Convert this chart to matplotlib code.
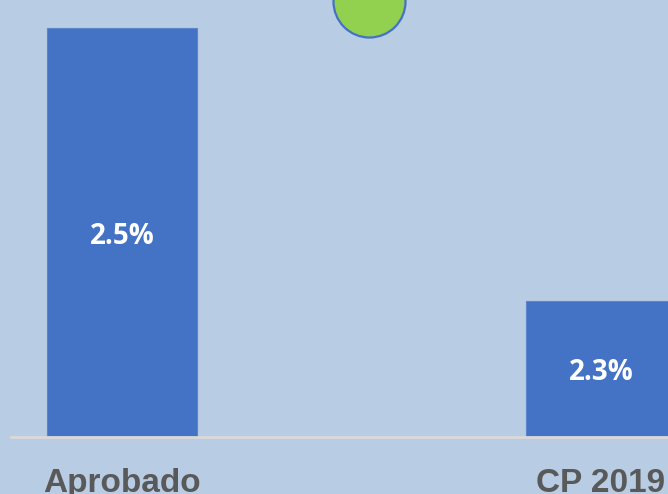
import matplotlib.pyplot as plt
from matplotlib.transforms import blended_transform_factory, offset_copy

categories = ["Aprobado", "CP 2019"]
values = [2.5, 2.3]
labels = ["2.5%", "2.3%"]
# marcador verde entre las barras
marker_x = [0.516]
marker_y = [2.52]

bg = "#b8cce4"
fig = plt.figure(figsize=(6.68, 4.94), dpi=100, facecolor=bg)
ax = fig.add_axes([11 / 668, 1 - 437 / 494, 1 - 11 / 668, 437 / 494])
ax.set_facecolor(bg)

x = range(len(categories))
ax.bar(x, values, width=0.313, color="#4472c4", edgecolor="#5b84cc", linewidth=0.8, zorder=2)
ax.set_xlim(-0.2317, 1.1399)
ax.set_ylim(2.2, 2.5205)

ax.scatter(marker_x, marker_y, s=2690, color="#92d050", edgecolor="#4472c4",
           linewidth=1.6, zorder=3, clip_on=False)

# etiquetas un poco por debajo del centro de la barra
lab_trans = offset_copy(ax.transData, fig=fig, x=0, y=-4, units="dots")
for xi, v, t in zip(x, values, labels):
    ax.text(xi, 2.2 + (v - 2.2) / 2, t, transform=lab_trans,
            ha="center", va="center", color="white", fontsize=20,
            fontweight="bold", family="Open Sans", zorder=4)

trans = blended_transform_factory(ax.transData, fig.transFigure)
for xi, c in zip(x, categories):
    ax.text(xi, 1 - 492 / 494, c, transform=trans, ha="center", va="baseline",
            fontsize=24, fontweight="bold", color="#595959",
            family="Liberation Sans", clip_on=False)

for s in ["top", "right", "left"]:
    ax.spines[s].set_visible(False)
ax.spines["bottom"].set_color("#d9d9d9")
ax.spines["bottom"].set_linewidth(2)
ax.set_xticks([])
ax.set_yticks([])

fig.savefig("out.png", dpi=100, facecolor=bg)
